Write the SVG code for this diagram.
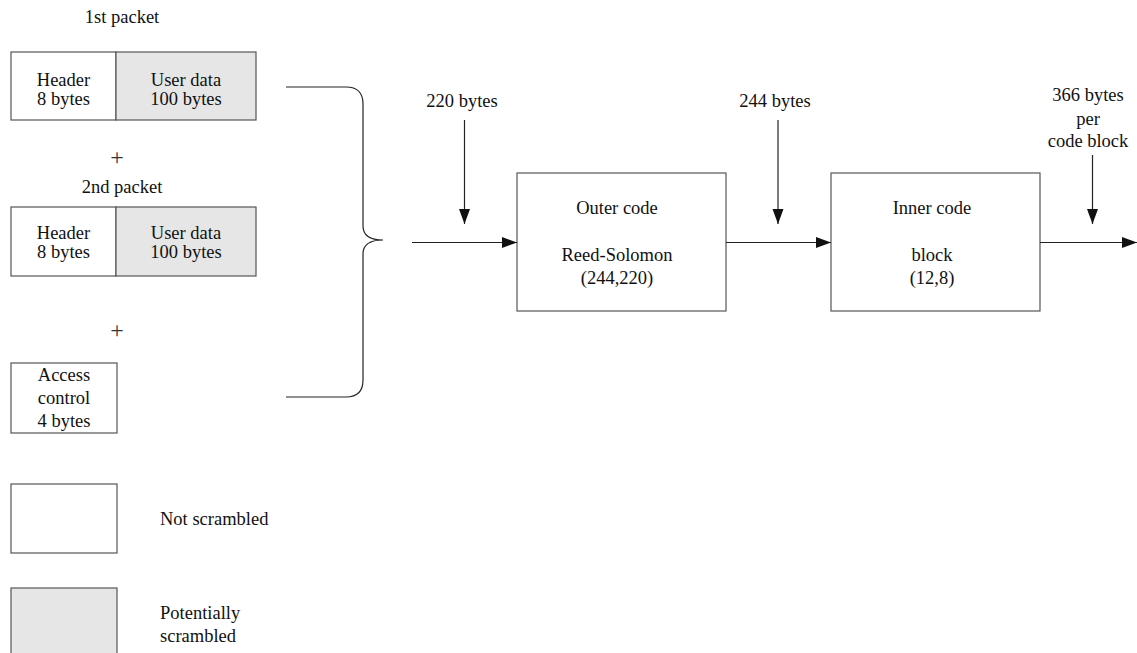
<svg xmlns="http://www.w3.org/2000/svg" width="1137" height="653" viewBox="0 0 1137 653">
<style>
text{font-family:"Liberation Serif","Times New Roman",serif;font-size:18.5px;fill:#111;text-anchor:middle}
.p{font-size:24px;fill:#333}
.b{fill:#fff;stroke:#555;stroke-width:1.2}
.g{fill:#e6e6e6;stroke:#555;stroke-width:1.2}
.c{fill:none;stroke:#222;stroke-width:1.2}
.l{text-anchor:start}
</style>
<defs>
<marker id="ah" markerWidth="16" markerHeight="12" refX="15" refY="5.5" orient="auto" markerUnits="userSpaceOnUse">
<path d="M0,0 L15,5.5 L0,11 Z" fill="#111"/>
</marker>
</defs>
<text x="122" y="23">1st packet</text>
<g id="packet1">
<rect class="b" x="11" y="52" width="105" height="68"/>
<rect class="g" x="116" y="52" width="140" height="68"/>
<text x="63.5" y="86">Header</text>
<text x="63.5" y="105">8 bytes</text>
<text x="186" y="86">User data</text>
<text x="186" y="105">100 bytes</text>
</g>
<text class="p" x="117" y="165">+</text>
<text x="122" y="193">2nd packet</text>
<g id="packet2">
<rect class="b" x="11" y="207" width="105" height="69"/>
<rect class="g" x="116" y="207" width="140" height="69"/>
<text x="63.5" y="239">Header</text>
<text x="63.5" y="258">8 bytes</text>
<text x="186" y="239">User data</text>
<text x="186" y="258">100 bytes</text>
</g>
<text class="p" x="117" y="338">+</text>
<g id="access">
<rect class="b" x="11" y="363" width="106" height="70"/>
<text x="64" y="381">Access</text>
<text x="64" y="404">control</text>
<text x="64" y="427">4 bytes</text>
</g>
<g id="legend">
<rect class="b" x="11" y="484" width="106" height="69"/>
<text class="l" x="160" y="525">Not scrambled</text>
<rect class="g" x="11" y="588" width="106" height="70"/>
<text class="l" x="160" y="619">Potentially</text>
<text class="l" x="160" y="642">scrambled</text>
</g>
<g id="outer">
<rect class="b" x="517" y="173" width="209" height="138"/>
<text x="617" y="214">Outer code</text>
<text x="617" y="261">Reed-Solomon</text>
<text x="617" y="284">(244,220)</text>
</g>
<g id="inner">
<rect class="b" x="831" y="173" width="209" height="138"/>
<text x="932" y="214">Inner code</text>
<text x="932" y="261">block</text>
<text x="932" y="284">(12,8)</text>
</g>
<text x="462" y="107">220 bytes</text>
<text x="775" y="107">244 bytes</text>
<text x="1088" y="101">366 bytes</text>
<text x="1088" y="125">per</text>
<text x="1088" y="147">code block</text>
<g id="connectors">
<path class="c" d="M286,87 H346 Q363,87 363,104 V226 Q363,240 383,240 Q363,240 363,254 V380 Q363,397 346,397 H286"/>
<line class="c" x1="412" y1="242.5" x2="517" y2="242.5" marker-end="url(#ah)"/>
<line class="c" x1="726" y1="242.5" x2="831" y2="242.5" marker-end="url(#ah)"/>
<line class="c" x1="1040" y1="242.5" x2="1137" y2="242.5" marker-end="url(#ah)"/>
<line class="c" x1="464.5" y1="120" x2="464.5" y2="224" marker-end="url(#ah)"/>
<line class="c" x1="778" y1="120" x2="778" y2="224" marker-end="url(#ah)"/>
<line class="c" x1="1092.5" y1="155" x2="1092.5" y2="224" marker-end="url(#ah)"/>
</g>
</svg>
